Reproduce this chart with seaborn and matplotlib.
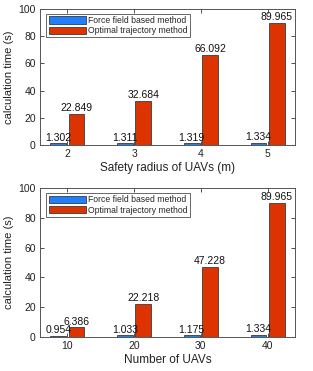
import matplotlib
matplotlib.use("Agg")
import matplotlib.pyplot as plt
import seaborn as sns
import pandas as pd

radius = ["2", "3", "4", "5"]
force_r = [1.302, 1.311, 1.319, 1.334]
optimal_r = [22.849, 32.684, 66.092, 89.965]

uavs = ["10", "20", "30", "40"]
force_n = [0.954, 1.033, 1.175, 1.334]
optimal_n = [6.386, 22.218, 47.228, 89.965]

methods = ["Force field based method", "Optimal trajectory method"]
colors = ["#1f7fff", "#dd3300"]

sns.set_theme(style="white")
plt.rcParams['font.family'] = ['Liberation Sans', 'DejaVu Sans']

fig = plt.figure(figsize=(3.13, 3.71), dpi=100)
W, H = 313, 371
ax1 = fig.add_axes([40 / W, 1 - 145 / H, 255 / W, 136 / H])
ax2 = fig.add_axes([40 / W, 1 - 337 / H, 255 / W, 149 / H])


def draw(ax, cats, f, o, xlabel):
    df = pd.DataFrame({
        "cat": cats * 2,
        "time": list(f) + list(o),
        "method": [methods[0]] * len(cats) + [methods[1]] * len(cats),
    })
    sns.barplot(data=df, x="cat", y="time", hue="method", palette=colors,
                width=0.55, gap=0.14, ax=ax, edgecolor="#3a3a3a",
                linewidth=0.6, saturation=1, errorbar=None)
    for cont, vals in zip(ax.containers, [f, o]):
        ax.bar_label(cont, labels=["%.3f" % v for v in vals], padding=0.5,
                     fontsize=7.5, color="#111111")
    ax.set_xlim(-0.41, 3.41)
    ax.set_ylim(0, 100)
    ax.set_yticks([0, 20, 40, 60, 80, 100])
    ax.set_xlabel(xlabel, fontsize=8.5, labelpad=2, color="#222222")
    ax.set_ylabel("calculation time (s)", fontsize=8, labelpad=3, color="#222222")
    ax.tick_params(direction="in", length=3, width=0.6, top=True, right=True,
                   bottom=True, left=True, labelsize=7.5, colors="#333333",
                   labelcolor="#222222", pad=3)
    for s in ax.spines.values():
        s.set_color("#555555")
        s.set_linewidth(0.7)
    leg = ax.legend(loc="upper left", bbox_to_anchor=(0.025, 0.965),
                    fontsize=6.2, handlelength=4.3, handleheight=0.9,
                    handletextpad=0.3, borderpad=0.25, labelspacing=0.15,
                    frameon=True, fancybox=False, borderaxespad=0)
    leg.get_frame().set_edgecolor("#222222")
    leg.get_frame().set_linewidth(0.6)


draw(ax1, radius, force_r, optimal_r, "Safety radius of UAVs (m)")
draw(ax2, uavs, force_n, optimal_n, "Number of UAVs")

fig.savefig("out.png", dpi=100)
